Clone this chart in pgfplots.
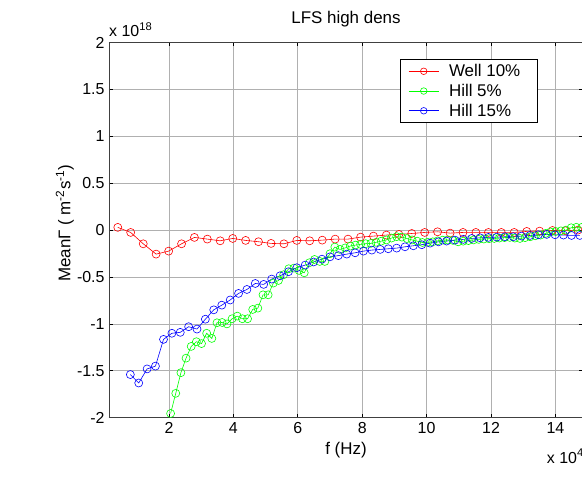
\documentclass[border=0pt]{standalone}
\usepackage{pgfplots}
\pgfplotsset{compat=1.18}
\usepackage{fontspec}
\setmainfont{Liberation Sans}
\definecolor{mred}{rgb}{1,0,0}
\definecolor{mgreen}{rgb}{0,1,0}
\definecolor{mblue}{rgb}{0,0,1}
\begin{document}
\begin{tikzpicture}
\useasboundingbox (0,0) rectangle (582bp,479bp);
\begin{axis}[
  name=ax,
  at={(109bp,61.3bp)}, anchor=south west,
  scale only axis, width=474bp, height=375.2bp,
  xmin=0.137, xmax=14.857, ymin=-2, ymax=2,
  xtick={2,4,6,8,10,12,14}, xticklabels={2,4,6,8,10,12,14},
  ytick={-2,-1.5,-1,-0.5,0,0.5,1,1.5,2},
  yticklabels={-2,-1.5,-1,-0.5,0,0.5,1,1.5,2},
  scaled ticks=false,
  /pgf/number format/assume math mode=true,
  tick label style={font=\fontsize{16}{18}\selectfont, black},
  xticklabel style={yshift=-1bp},
  yticklabel style={xshift=-1bp},
  tick align=inside, major tick length=4bp,
  xtick pos=both, ytick pos=both,
  tick style={black, line width=0.6bp},
  grid=major, major grid style={gray!62, line width=0.7bp},
  axis line style={black!75, line width=0.8bp},
  title={LFS high dens},
  title style={font=\fontsize{17}{19}\selectfont, at={(0.5,1)}, anchor=center, yshift=17.5bp},
  xlabel={f (Hz)},
  xlabel style={font=\fontsize{17}{19}\selectfont, at={(axis description cs:0.5,0)}, anchor=center, yshift=-32bp},
  ylabel={MeanΓ ( m\textsuperscript{-2}s\textsuperscript{-1})},
  ylabel style={font=\fontsize{17}{19}\selectfont, at={(axis description cs:-0.093,0.518)}, anchor=center},
  legend style={at={(0.614,0.956)}, anchor=north west, draw=black, line width=0.8bp,
    font=\fontsize{17}{19}\selectfont, inner xsep=8bp, inner ysep=3bp, row sep=2bp, column sep=8bp, cells={anchor=west}},
  legend cell align=left,
  legend image code/.code={\draw[mark repeat=2,mark phase=2, line width=0.6bp, mark size=3.3bp] plot coordinates {(0bp,0bp) (15bp,0bp) (30bp,0bp)};},
  every axis plot/.append style={line width=0.6bp, mark=o, mark size=4bp, mark options={solid}},
]
\addplot[color=mred] coordinates {(0.41,0.029)(0.81,-0.025)(1.20,-0.146)(1.60,-0.256)(1.99,-0.224)(2.39,-0.146)(2.79,-0.078)(3.19,-0.096)(3.59,-0.114)(3.98,-0.089)(4.38,-0.11)(4.78,-0.124)(5.17,-0.142)(5.57,-0.146)(5.97,-0.11)(6.37,-0.114)(6.76,-0.107)(7.16,-0.096)(7.56,-0.096)(7.95,-0.075)(8.35,-0.064)(8.75,-0.053)(9.14,-0.046)(9.54,-0.036)(9.94,-0.025)(10.34,-0.018)(10.73,-0.032)(11.13,-0.025)(11.53,-0.025)(11.92,-0.025)(12.32,-0.025)(12.72,-0.025)(13.11,-0.014)(13.51,-0.011)(13.91,-0.004)(14.31,-0.007)(14.70,0.0)};
\addlegendentry{Well 10\%\hspace*{7bp}}
\addplot[color=mgreen] coordinates {(2.05,-1.955)(2.21,-1.74)(2.37,-1.52)(2.53,-1.365)(2.69,-1.24)(2.85,-1.19)(3.01,-1.21)(3.17,-1.10)(3.33,-1.155)(3.49,-0.988)(3.65,-0.985)(3.80,-1.00)(3.96,-0.945)(4.12,-0.917)(4.28,-0.945)(4.44,-0.945)(4.60,-0.846)(4.76,-0.832)(4.92,-0.69)(5.08,-0.69)(5.24,-0.565)(5.40,-0.537)(5.56,-0.476)(5.72,-0.412)(5.88,-0.405)(6.04,-0.43)(6.20,-0.455)(6.36,-0.348)(6.52,-0.313)(6.68,-0.334)(6.84,-0.334)(7.00,-0.252)(7.15,-0.181)(7.31,-0.206)(7.47,-0.19)(7.63,-0.17)(7.79,-0.16)(7.95,-0.152)(8.11,-0.145)(8.27,-0.142)(8.43,-0.13)(8.59,-0.118)(8.75,-0.105)(8.91,-0.085)(9.07,-0.07)(9.23,-0.075)(9.39,-0.09)(9.55,-0.105)(9.71,-0.118)(9.87,-0.132)(10.03,-0.13)(10.19,-0.125)(10.34,-0.115)(10.50,-0.107)(10.66,-0.105)(10.82,-0.11)(10.98,-0.125)(11.14,-0.118)(11.30,-0.112)(11.46,-0.105)(11.62,-0.099)(11.78,-0.095)(11.94,-0.092)(12.10,-0.089)(12.26,-0.085)(12.42,-0.08)(12.58,-0.078)(12.74,-0.085)(12.90,-0.089)(13.06,-0.08)(13.22,-0.071)(13.38,-0.06)(13.54,-0.053)(13.70,-0.035)(13.85,-0.02)(14.01,-0.015)(14.17,-0.008)(14.33,0.0)(14.49,0.025)(14.65,0.03)(14.81,0.028)};
\addlegendentry{Hill 5\%}
\addplot[color=mblue] coordinates {(0.80,-1.54)(1.06,-1.63)(1.32,-1.48)(1.58,-1.45)(1.83,-1.165)(2.09,-1.10)(2.35,-1.09)(2.61,-1.03)(2.87,-1.055)(3.13,-0.95)(3.39,-0.85)(3.64,-0.80)(3.90,-0.745)(4.16,-0.675)(4.42,-0.633)(4.68,-0.569)(4.94,-0.579)(5.19,-0.522)(5.45,-0.487)(5.71,-0.444)(5.97,-0.401)(6.23,-0.373)(6.49,-0.340)(6.75,-0.310)(7.00,-0.285)(7.26,-0.272)(7.52,-0.256)(7.78,-0.242)(8.04,-0.224)(8.30,-0.213)(8.56,-0.206)(8.81,-0.199)(9.07,-0.192)(9.33,-0.178)(9.59,-0.167)(9.85,-0.156)(10.11,-0.139)(10.37,-0.125)(10.62,-0.117)(10.88,-0.107)(11.14,-0.099)(11.40,-0.089)(11.66,-0.082)(11.92,-0.078)(12.18,-0.075)(12.43,-0.071)(12.69,-0.071)(12.95,-0.064)(13.21,-0.057)(13.47,-0.050)(13.73,-0.046)(13.99,-0.050)(14.25,-0.053)(14.50,-0.057)(14.76,-0.057)};
\addlegendentry{Hill 15\%}
\end{axis}
\node[font=\fontsize{16}{18}\selectfont, anchor=base west, inner sep=0pt] at (ax.north west) [yshift=5.5bp] {x 10\textsuperscript{18}};
\node[font=\fontsize{16}{18}\selectfont, anchor=base west, inner sep=0pt] at (546.7bp,16bp) {x 10\textsuperscript{4}};
\end{tikzpicture}
\end{document}
